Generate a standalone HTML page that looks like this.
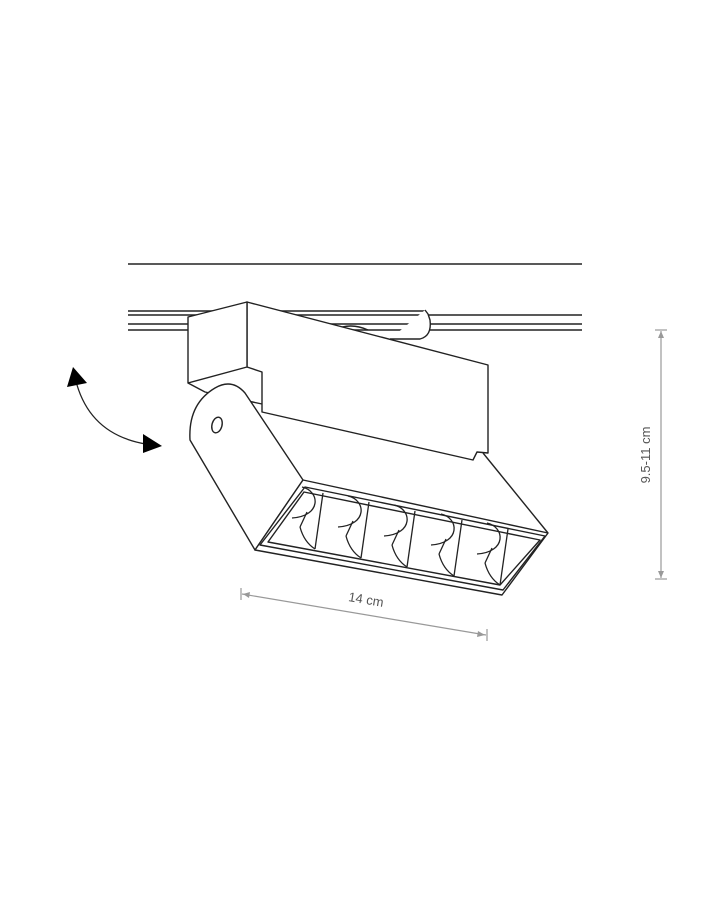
<!DOCTYPE html>
<html><head><style>
html,body{margin:0;padding:0;background:#fff;width:720px;height:900px;overflow:hidden}
svg{display:block}
</style></head><body>
<svg width="720" height="900" viewBox="0 0 720 900" xmlns="http://www.w3.org/2000/svg">
<g fill="none" stroke="#222" stroke-width="1.4" stroke-linejoin="round">
<line x1="128" y1="264" x2="582" y2="264" stroke-width="1.6"/>
<line x1="128" y1="311" x2="425" y2="311"/>
<line x1="128" y1="315" x2="582" y2="315"/>
<line x1="128" y1="324" x2="582" y2="324"/>
<line x1="128" y1="330" x2="582" y2="330"/>
<path d="M425 310 L428 314 L430 320 Q432 336 420 339 L390 339" fill="#fff"/>
<path d="M335 330 Q350 322 368 330"/>
<!-- lens body (back) -->
<path d="M483 453 L548 533 L502 595 L255 550 L303 480 L262 412 L473 460 Z" fill="#fff" stroke="none"/>
<path d="M483 453 L548 533"/>
<!-- block right long face -->
<path d="M247 302 L488 365 L488 453 L477 452 L473 460 L262 412 L262 372 L247 367 Z" fill="#fff"/>
<path d="M188 317 L247 302 L247 367 L188 383 Z" fill="#fff"/>
<path d="M188 383 L205 392 L262 404"/>
<!-- arm -->
<path d="M303 480 L245 393 Q232 378 215 388 Q188 404 190 440 L255 550 Z" fill="#fff"/>
<ellipse cx="217" cy="425" rx="5" ry="8" transform="rotate(15 217 425)"/>
<!-- lens frames -->
<path d="M303 480 L548 533 L502 595 L255 550 Z" fill="#fff"/>
<path d="M305 487 L545 536 L503 590 L260 545 Z"/>
<path d="M304 492 L540 540 L500 585 L268 542 Z"/>
<g stroke-width="1.3">
<g id="u">
<path d="M302 487 C320 491, 322 516, 292 518"/>
<path d="M323 493 L315 549"/>
<path d="M300 527 Q304 542 315 549"/>
<path d="M300 527 L307 512"/>
</g>
<use href="#u" transform="translate(46 9)"/>
<use href="#u" transform="translate(92 18)"/>
<use href="#u" transform="translate(139 27)"/>
<use href="#u" transform="translate(185 36)"/>
</g>
<path d="M77 385 Q92 435 146 444" stroke-width="1.3"/>
</g>
<polygon points="67,387 73,367 87,383" fill="#000"/>
<polygon points="143,434 162,446 143,453" fill="#000"/>
<g stroke="#999" stroke-width="1.2" fill="#999">
<line x1="661" y1="331" x2="661" y2="578"/>
<line x1="655" y1="330" x2="667" y2="330"/>
<line x1="655" y1="579" x2="667" y2="579"/>
<polygon points="661,331 658,338 664,338" stroke="none"/>
<polygon points="661,578 658,571 664,571" stroke="none"/>
<line x1="242" y1="594" x2="486" y2="635"/>
<line x1="241" y1="588" x2="241" y2="600"/>
<line x1="487" y1="629" x2="487" y2="641"/>
<polygon points="243,594 250,592 249,598" stroke="none"/>
<polygon points="485,635 478,631 477,637" stroke="none"/>
</g>
<text x="366" y="604" font-family="Liberation Sans, sans-serif" font-size="13" fill="#555" text-anchor="middle" transform="rotate(9.5 366 600)">14 cm</text>
<text x="650" y="455" font-family="Liberation Sans, sans-serif" font-size="13" fill="#555" text-anchor="middle" transform="rotate(-90 650 455)">9.5-11 cm</text>
</svg>
</body></html>
